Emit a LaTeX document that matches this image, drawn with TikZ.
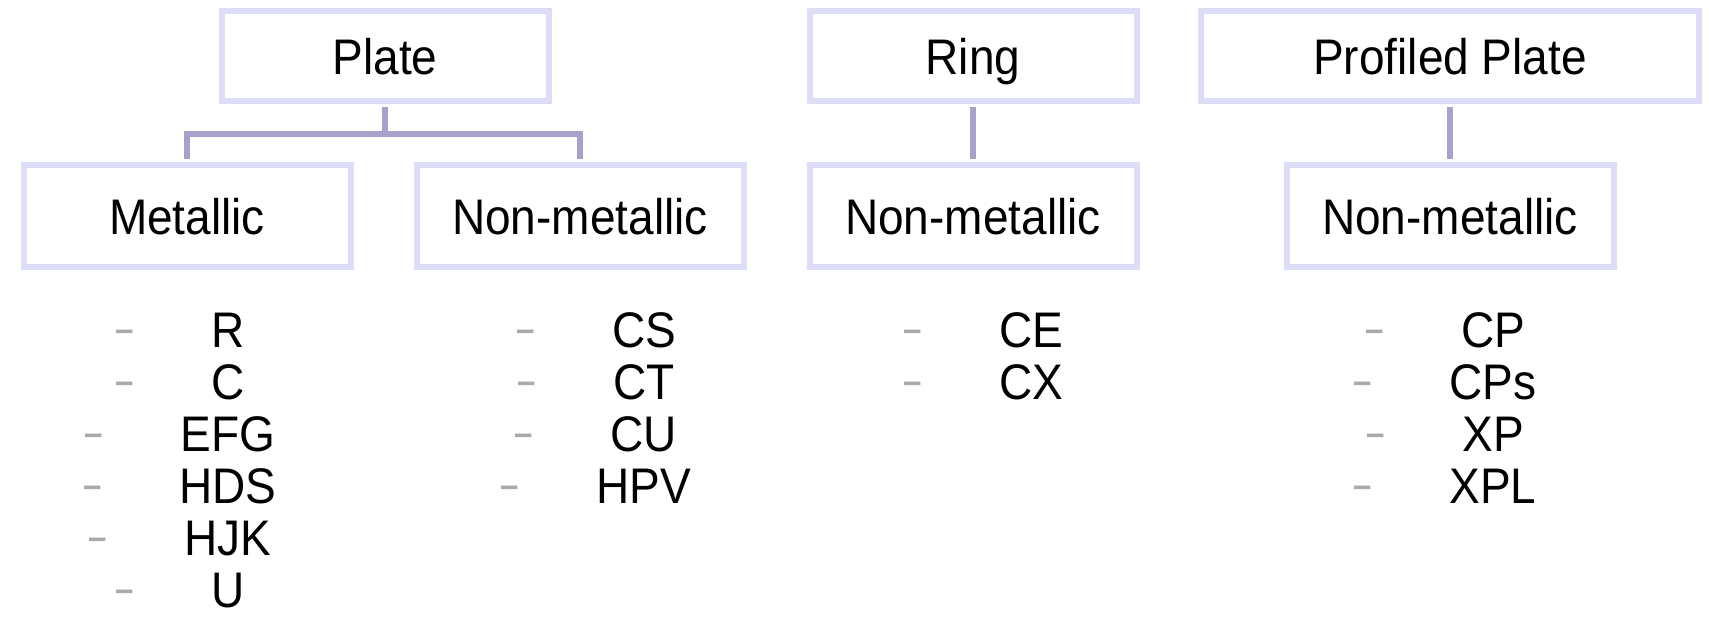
\documentclass[tikz,border=0pt]{standalone}
\usepackage{fontspec}
\setmainfont{Liberation Sans}[FakeStretch=0.92]
\definecolor{boxline}{RGB}{221,221,247}
\definecolor{linkline}{RGB}{166,162,204}
\definecolor{dashgray}{RGB}{170,170,170}
\tikzset{
  catbox/.style={draw=boxline, line width=6pt, minimum width=327pt, minimum height=90pt,
    inner sep=0pt, font=\fontsize{50}{54}\selectfont, text height=36pt, text depth=0pt},
  subbox/.style={catbox, minimum height=102pt},
  link/.style={draw=linkline, line width=6pt, shorten <=3pt, shorten >=3pt},
  item/.style={inner sep=0pt, font=\fontsize{50}{54}\selectfont, text height=36pt, text depth=0pt},
  bullet/.style={inner sep=0pt, text=dashgray, font=\bfseries\fontsize{36}{36}\selectfont, anchor=base east}
}
\newcommand{\bulletfor}[1]{\node[bullet] at ([xshift=-77pt,yshift=6pt]#1.base west) {–};}
\begin{document}
\begin{tikzpicture}[x=1pt,y=-1pt]
  \useasboundingbox (0,0) rectangle (1709,640);

  % category boxes
  \node[catbox] (plate) at (385,56) {Plate};
  \node[catbox] (ring) at (973,56) {Ring};
  \node[catbox, minimum width=498pt] (profiled) at (1450,56) {Profiled Plate};

  % material boxes
  \node[subbox] (metal) at (187,216) {Metallic};
  \node[subbox] (nmA) at (580,216) {Non-metallic};
  \node[subbox] (nmB) at (973,216) {Non-metallic};
  \node[subbox] (nmC) at (1450,216) {Non-metallic};

  % connectors
  \coordinate (fork) at (385,134);
  \draw[link, shorten >=0pt] (plate.south) -- (fork);
  \draw[link] (metal.north) |- (fork) -| (nmA.north);
  \draw[link] (ring.south) -- (nmB.north);
  \draw[link] (profiled.south) -- (nmC.north);

  % metallic plate grades
  \node[item] (a1) at (228,329) {R};
  \node[item] (a2) at (228,381) {C};
  \node[item] (a3) at (228,433) {EFG};
  \node[item] (a4) at (228,485) {HDS};
  \node[item] (a5) at (228,537) {HJK};
  \node[item] (a6) at (228,589) {U};
  \foreach \n in {a1,a2,a3,a4,a5,a6} {\bulletfor{\n}}

  % non-metallic plate grades
  \node[item] (b1) at (644,329) {CS};
  \node[item] (b2) at (644,381) {CT};
  \node[item] (b3) at (644,433) {CU};
  \node[item] (b4) at (644,485) {HPV};
  \foreach \n in {b1,b2,b3,b4} {\bulletfor{\n}}

  % ring grades
  \node[item] (c1) at (1031,329) {CE};
  \node[item] (c2) at (1031,381) {CX};
  \foreach \n in {c1,c2} {\bulletfor{\n}}

  % profiled plate grades
  \node[item] (d1) at (1493,329) {CP};
  \node[item] (d2) at (1493,381) {CPs};
  \node[item] (d3) at (1493,433) {XP};
  \node[item] (d4) at (1493,485) {XPL};
  \foreach \n in {d1,d2,d3,d4} {\bulletfor{\n}}
\end{tikzpicture}
\end{document}
